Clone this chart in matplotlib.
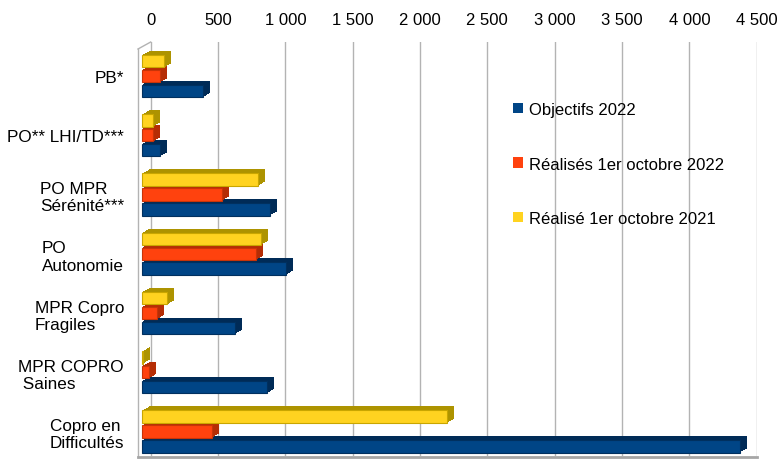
import numpy as np
import matplotlib.pyplot as plt
from matplotlib.transforms import ScaledTranslation
from matplotlib.ticker import FuncFormatter
from matplotlib.patches import Patch
from matplotlib.lines import Line2D

plt.rcParams['font.family'] = ['Liberation Sans', 'DejaVu Sans']
plt.rcParams['font.size'] = 12

# data
categories = ['PB*', 'PO** LHI/TD***', 'PO MPR\nSérénité***', 'PO\nAutonomie',
              'MPR Copro\nFragiles', 'MPR COPRO\n Saines', 'Copro en\nDifficultés']
objectifs_2022 = [453, 134, 950, 1069, 690, 926, 4440]
realises_2022 = [134, 82, 592, 846, 109, 50, 517]
realise_2021 = [166, 79, 859, 881, 188, 5, 2262]
series_names = ['Objectifs 2022', 'Réalisés 1er octobre 2022', 'Réalisé 1er octobre 2021']

# front colour, side colour
front = ['#004586', '#ff420e', '#ffd320']
side = ['#002b57', '#b52d05', '#ad9300']
edge = ['#00305f', '#c83408', '#c9a600']

W, H = 779, 460
fig = plt.figure(figsize=(W / 100, H / 100), dpi=100)

# axes box in pixels (back wall of the 3d chart)
left_px, right_px, top_px, bot_px = 138, 757, 43, 457
ax = fig.add_axes([left_px / W, 1 - bot_px / H, (right_px - left_px) / W, (bot_px - top_px) / H])

scale = (756.7 - 150.7) / 4500.0   # px per unit
ax.set_xlim((left_px - 150.7) / scale, (right_px - 150.7) / scale)
ax.set_ylim(6.413, -0.574)

y = np.arange(len(categories))
pos = [y + 0.25, y, y - 0.25]   # blue bottom, orange middle, yellow top
vals = [objectifs_2022, realises_2022, realise_2021]

shift = -8.7    # front plane vs back wall, px
dx, dy = 7.0, 4.0
nsteps = 14
bar_h = 0.21

for i in range(3):
    # extrusion (side / top faces)
    for k in range(nsteps, 0, -1):
        bars = ax.barh(pos[i], vals[i], height=bar_h, color=side[i], lw=0, zorder=2 + i)
        off = ScaledTranslation((shift + dx * k / nsteps) / 100, (dy * k / nsteps) / 100, fig.dpi_scale_trans)
        for b in bars:
            b.set_transform(ax.transData + off)
            b.set_clip_on(False)
    bars = ax.barh(pos[i], vals[i], height=bar_h, color=front[i], edgecolor=edge[i], lw=0.8, zorder=2.5 + i)
    off = ScaledTranslation(shift / 100, 0, fig.dpi_scale_trans)
    for b in bars:
        b.set_transform(ax.transData + off)
        b.set_clip_on(False)

ax.set_xticks(np.arange(0, 4501, 500))
ax.xaxis.set_major_formatter(FuncFormatter(lambda v, p: '{:,.0f}'.format(v).replace(',', ' ')))
ax.xaxis.tick_top()
ax.tick_params(axis='x', length=0, pad=11, labelsize=12)
ax.grid(axis='x', color='#b3b3b3', lw=1)
ax.set_axisbelow(True)

ax.set_yticks(y)
ax.set_yticklabels(categories)
ax.tick_params(axis='y', length=0, pad=10, labelsize=12.3)
for lbl in ax.get_yticklabels():
    lbl.set_multialignment('left')

for s in ax.spines.values():
    s.set_visible(False)

# walls
fig.add_artist(Line2D([138 / W, 150.7 / W], [1 - 50 / H, 1 - 43 / H], color='#b3b3b3', lw=1))
fig.add_artist(Line2D([138 / W, 138 / W], [1 - 50 / H, 1 - 458 / H], color='#b3b3b3', lw=1))
fig.add_artist(Line2D([138 / W, 757 / W], [1 - 458 / H, 1 - 458 / H], color='#a6a6a6', lw=2))

handles = [Patch(facecolor=front[i], edgecolor='none') for i in range(3)]
fig.legend(handles, series_names, loc='upper left', bbox_to_anchor=(513 / W, 1 - 103 / H),
           frameon=False, borderpad=0, borderaxespad=0, handlelength=0.6, handleheight=0.6,
           handletextpad=0.35, labelspacing=2.37, fontsize=12)

fig.savefig('out.png', dpi=100)
